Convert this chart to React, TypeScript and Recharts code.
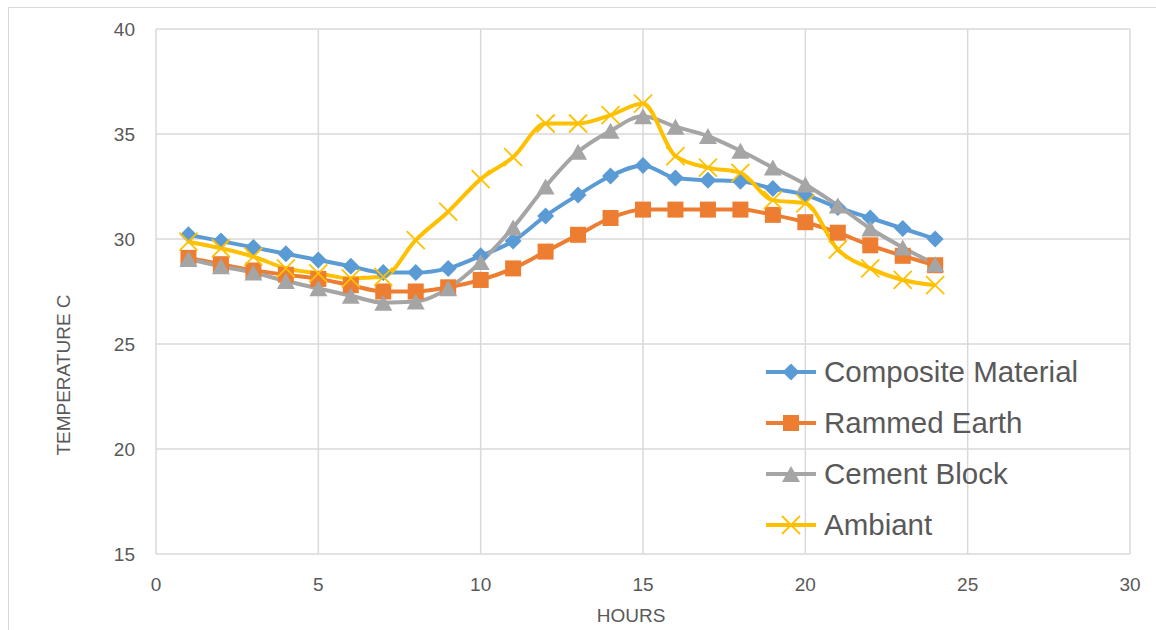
import { LineChart, Line, XAxis, YAxis, CartesianGrid } from 'recharts'

const hours = [1, 2, 3, 4, 5, 6, 7, 8, 9, 10, 11, 12, 13, 14, 15, 16, 17, 18, 19, 20, 21, 22, 23, 24]
const composite = [30.2, 29.9, 29.6, 29.3, 29.0, 28.7, 28.4, 28.4, 28.6, 29.2, 29.9, 31.1, 32.1, 33.0, 33.5, 32.9, 32.8, 32.75, 32.4, 32.1, 31.5, 31.0, 30.5, 30.0]
const rammed = [29.1, 28.8, 28.5, 28.3, 28.1, 27.8, 27.5, 27.5, 27.7, 28.05, 28.6, 29.4, 30.2, 31.0, 31.4, 31.4, 31.4, 31.4, 31.15, 30.8, 30.3, 29.7, 29.2, 28.75]
const cement = [29.05, 28.7, 28.4, 28.0, 27.65, 27.3, 26.97, 27.02, 27.65, 28.9, 30.55, 32.5, 34.15, 35.15, 35.85, 35.35, 34.9, 34.2, 33.4, 32.6, 31.6, 30.5, 29.6, 28.8]
const ambient = [29.87, 29.56, 29.16, 28.6, 28.36, 28.13, 28.2, 29.95, 31.3, 32.85, 33.9, 35.5, 35.5, 35.9, 36.45, 33.95, 33.4, 33.15, 31.85, 31.7, 29.5, 28.6, 28.05, 27.8]
const xTicks = [0, 5, 10, 15, 20, 25, 30]
const yTicks = [15, 20, 25, 30, 35, 40]

const data = hours.map((h, i) => ({
  hour: h,
  composite: composite[i],
  rammed: rammed[i],
  cement: cement[i],
  ambient: ambient[i],
}))

const FONT = "'Liberation Sans', Arial, sans-serif"

type Shape = 'diamond' | 'square' | 'triangle' | 'x'

const series: { key: string; name: string; color: string; shape: Shape }[] = [
  { key: 'composite', name: 'Composite Material', color: '#5B9BD5', shape: 'diamond' },
  { key: 'rammed', name: 'Rammed Earth', color: '#ED7D31', shape: 'square' },
  { key: 'cement', name: 'Cement Block', color: '#A5A5A5', shape: 'triangle' },
  { key: 'ambient', name: 'Ambiant', color: '#FFC000', shape: 'x' },
]

function marker(shape: Shape, color: string, cx: number, cy: number, key?: string) {
  if (shape === 'diamond') {
    const r = 8.5
    return <polygon key={key} points={`${cx},${cy - r} ${cx + r},${cy} ${cx},${cy + r} ${cx - r},${cy}`} fill={color} />
  }
  if (shape === 'square') {
    const s = 8
    return <rect key={key} x={cx - s} y={cy - s} width={s * 2} height={s * 2} fill={color} />
  }
  if (shape === 'triangle') {
    const w = 9
    const h = 8
    return <polygon key={key} points={`${cx},${cy - h} ${cx + w},${cy + h} ${cx - w},${cy + h}`} fill={color} />
  }
  const r = 9
  return (
    <g key={key}>
      <line x1={cx - r} y1={cy - r} x2={cx + r} y2={cy + r} stroke={color} strokeWidth={1.8} />
      <line x1={cx - r} y1={cy + r} x2={cx + r} y2={cy - r} stroke={color} strokeWidth={1.8} />
    </g>
  )
}

// legend drawn as an overlay so the plot keeps its full height
function LegendBox() {
  return (
    <div
      style={{
        position: 'absolute',
        left: 756,
        top: 338,
        fontFamily: FONT,
        fontSize: 29.5,
        color: '#595959',
      }}
    >
      {series.map((s) => (
        <div key={s.key} style={{ display: 'flex', alignItems: 'center', height: 51, whiteSpace: 'nowrap' }}>
          <svg width={59} height={30}>
            <line x1={1} y1={15} x2={51} y2={15} stroke={s.color} strokeWidth={4} />
            {marker(s.shape, s.color, 26, 15)}
          </svg>
          <span>{s.name}</span>
        </div>
      ))}
    </div>
  )
}

export default function App() {
  return (
    <div
      style={{
        position: 'absolute',
        left: 8,
        top: 7,
        width: 1150,
        height: 640,
        border: '1px solid #d9d9d9',
        boxSizing: 'border-box',
        background: '#fff',
      }}
    >
      <LineChart width={1140} height={620} data={data} margin={{ top: 21, right: 19, left: 0, bottom: 0 }}>
        <CartesianGrid stroke="#d9d9d9" strokeWidth={1.5} />
        <XAxis
          dataKey="hour"
          type="number"
          domain={[0, 30]}
          ticks={xTicks}
          axisLine={false}
          tickLine={false}
          tickSize={0}
          tickMargin={24}
          height={74}
          tick={{ fill: '#595959', fontSize: 19, fontFamily: FONT }}
        />
        <YAxis
          type="number"
          domain={[15, 40]}
          ticks={yTicks}
          axisLine={false}
          tickLine={false}
          tickSize={0}
          tickMargin={21}
          width={147}
          tick={{ fill: '#595959', fontSize: 19, fontFamily: FONT }}
        />
        {series.map((s) => (
          <Line
            key={s.key}
            dataKey={s.key}
            name={s.name}
            type="monotone"
            stroke={s.color}
            strokeWidth={4}
            isAnimationActive={false}
            dot={(p: any) => marker(s.shape, s.color, p.cx, p.cy, `${s.key}-${p.index}`)}
            activeDot={false}
          />
        ))}
      </LineChart>
      <LegendBox />
      <div
        style={{
          position: 'absolute',
          left: 587,
          top: 597,
          width: 70,
          textAlign: 'center',
          fontFamily: FONT,
          fontSize: 19,
          color: '#595959',
        }}
      >
        HOURS
      </div>
      <div
        style={{
          position: 'absolute',
          left: 55,
          top: 367,
          transform: 'translate(-50%, -50%) rotate(-90deg)',
          whiteSpace: 'nowrap',
          fontFamily: FONT,
          fontSize: 19,
          color: '#595959',
        }}
      >
        TEMPERATURE C
      </div>
    </div>
  )
}
